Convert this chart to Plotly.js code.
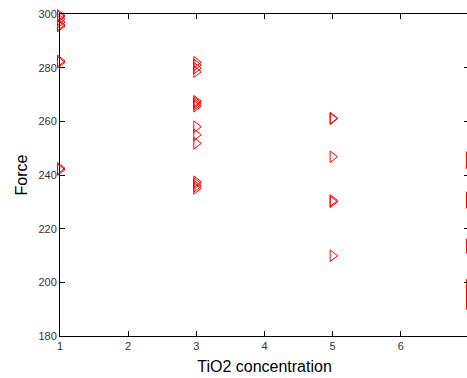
<!DOCTYPE html>
<html>
<head>
<meta charset="utf-8">
<script src="https://cdn.plot.ly/plotly-3.0.1.min.js"></script>
<style>
html, body { margin: 0; padding: 0; overflow: hidden; background: #fff; }
#chart { width: 470px; height: 378px; }
</style>
</head>
<body>
<div id="chart"></div>
<script>
// TiO2 concentration (x) and Force (y) readings
const tio2 = [
  1, 1, 1, 1, 1, 1, 1, 1, 1, 1,
  3, 3, 3, 3, 3, 3, 3, 3, 3, 3, 3, 3, 3, 3, 3,
  5, 5, 5, 5, 5, 5,
  7, 7, 7, 7, 7, 7, 7, 7, 7, 7
];
const force = [
  299.5, 299, 298, 297, 296, 295.5, 282.5, 282, 242.5, 242,
  282, 281, 279.8, 278.5, 267.5, 267, 266.3, 265.6, 258, 255, 251.8, 237.5, 236.8, 235.8, 235,
  261.2, 261, 246.8, 230.5, 230, 209.9,
  246.5, 244.5, 231.5, 229.8, 214, 213, 199, 196, 193.5, 192
];
const xTicks = [1, 2, 3, 4, 5, 6, 7];
const yTicks = [180, 200, 220, 240, 260, 280, 300];

const trace = {
  x: tio2,
  y: force,
  type: 'scatter',
  mode: 'markers',
  cliponaxis: false,
  marker: {
    symbol: 'triangle-right-open',
    size: 10,
    color: '#ff0000',
    line: { color: '#ff0000', width: 1 }
  },
  hoverinfo: 'x+y'
};

const axisCommon = {
  showgrid: false,
  zeroline: false,
  showline: true,
  linecolor: '#000',
  linewidth: 1,
  mirror: 'ticks',
  ticks: 'inside',
  ticklen: 5,
  tickwidth: 1,
  tickcolor: '#000',
  tickfont: { family: 'Liberation Sans, Arial, sans-serif', size: 11, color: '#333' },
  tickmode: 'array',
  automargin: true
};

const layout = {
  width: 470,
  height: 378,
  margin: { l: 60, r: 1, t: 14, b: 42 },
  paper_bgcolor: '#fff',
  plot_bgcolor: '#fff',
  showlegend: false,
  xaxis: Object.assign({}, axisCommon, {
    range: [1, 7],
    tickvals: xTicks,
    ticktext: xTicks.map(String),
    title: { text: 'TiO2 concentration', font: { family: 'Liberation Sans, Arial, sans-serif', size: 16, color: '#000' }, standoff: 9 }
  }),
  yaxis: Object.assign({}, axisCommon, {
    range: [180, 300],
    tickvals: yTicks,
    ticktext: yTicks.map(String),
    title: { text: 'Force', font: { family: 'Liberation Sans, Arial, sans-serif', size: 16, color: '#000' }, standoff: 6 }
  })
};

Plotly.newPlot('chart', [trace], layout, { displayModeBar: false, staticPlot: true });
</script>
</body>
</html>
